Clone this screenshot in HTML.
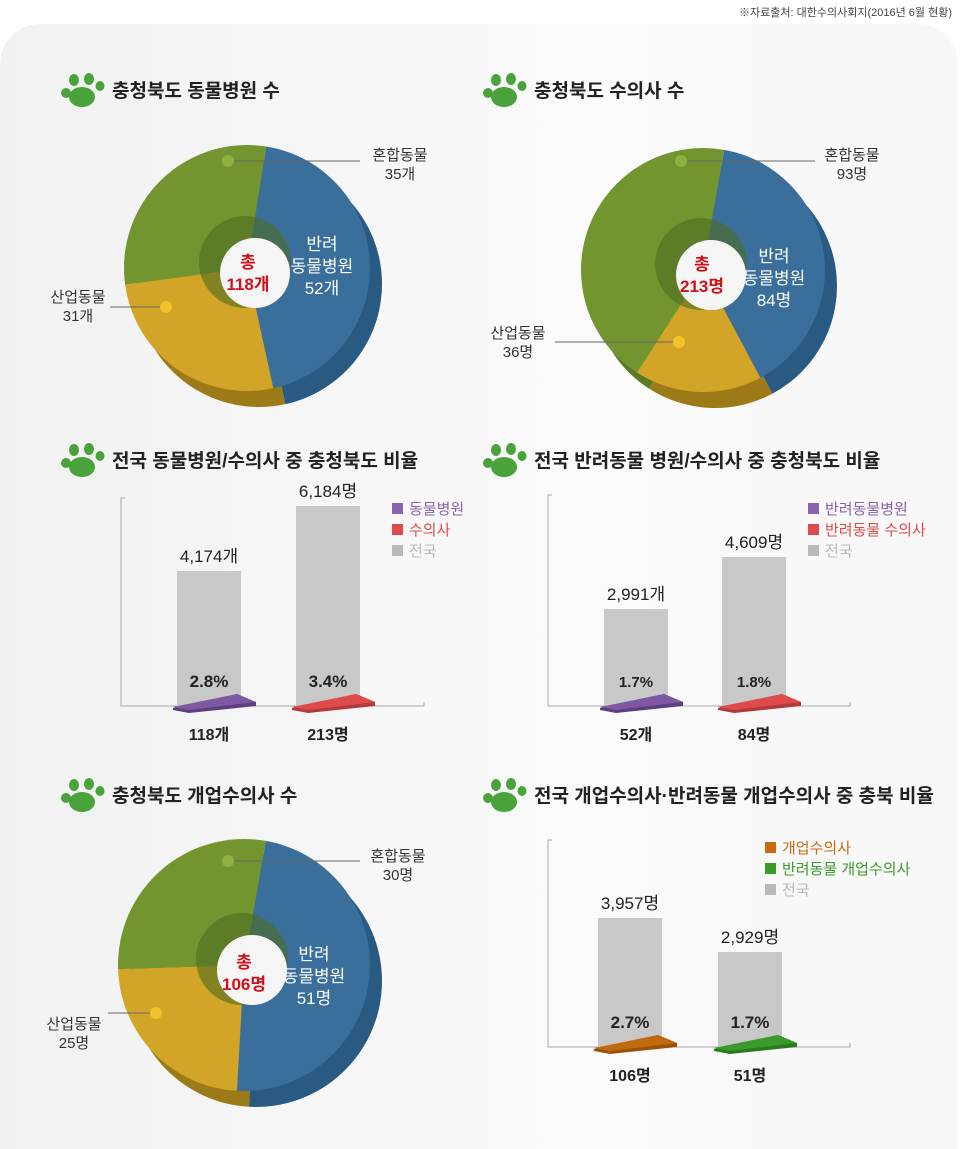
<!DOCTYPE html>
<html><head><meta charset="utf-8"><style>
body{margin:0;width:960px;height:1149px;background:#fff;font-family:"Liberation Sans","Noto Sans CJK KR",sans-serif;position:relative;overflow:hidden}
.panel{position:absolute;left:0;top:24px;width:958px;height:1125px;border-radius:40px 40px 0 0;background:linear-gradient(90deg,#f1f1f1,#fafafa 60%,#f7f7f7)}
.t{position:absolute;white-space:nowrap}
svg{position:absolute;left:0;top:0}
</style></head><body>
<div class="panel"></div>
<div class="t" style="right:8px;top:4px;font-size:11px;color:#444">※자료출처: 대한수의사회지(2016년 6월 현황)</div>
<svg width="960" height="1149" id="s" font-family="Liberation Sans, Noto Sans CJK KR, sans-serif"></svg>
<script>
var s=document.getElementById('s'),h='';
function P(cx,cy,r,a0,a1){a0*=Math.PI/180;a1*=Math.PI/180;var l=(a1-a0)>Math.PI?1:0;
return 'M'+cx+' '+cy+'L'+(cx+r*Math.sin(a0))+' '+(cy-r*Math.cos(a0))+'A'+r+' '+r+' 0 '+l+' 1 '+(cx+r*Math.sin(a1))+' '+(cy-r*Math.cos(a1))+'Z';}
function paw(x,y){return '<g fill="#4aa33a"><ellipse cx="'+(x+20)+'" cy="'+(y+24)+'" rx="13" ry="10"/><ellipse cx="'+(x+4)+'" cy="'+(y+20)+'" rx="5" ry="5"/><ellipse cx="'+(x+12)+'" cy="'+(y+7)+'" rx="5" ry="6"/><ellipse cx="'+(x+27)+'" cy="'+(y+6)+'" rx="5" ry="6"/><ellipse cx="'+(x+38)+'" cy="'+(y+13)+'" rx="4.5" ry="5"/></g>';}
function title(x,y,t){h+=paw(x,y-24)+'<text x="'+(x+50)+'" y="'+y+'" font-size="19" font-weight="bold" fill="#222">'+t+'</text>';}
function donut(cx,cy,r,a,tot,lab){
 var cols=['#3a6f9c','#d2a427','#739530'],dk=['#295a82','#9c7a17','#5a7a25'];
 var e=[a+lab[0]/tot*360, a+(lab[0]+lab[1])/tot*360, a+360];
 var st=[a,e[0],e[1]];
 for(var i=0;i<3;i++)h+='<path d="'+P(cx+12,cy+16,r,st[i],e[i])+'" fill="'+dk[i]+'"/>';
 for(var i=0;i<3;i++)h+='<path d="'+P(cx,cy,r,st[i],e[i])+'" fill="'+cols[i]+'"/>';
 h+='<circle cx="'+(cx-2)+'" cy="'+(cy-6)+'" r="46" fill="#4f6d22" opacity="0.6"/>';
 h+='<circle cx="'+(cx+8)+'" cy="'+(cy+5)+'" r="35" fill="#f5f5f5"/>';
}
title(62,97,'충청북도 동물병원 수');title(484,97,'충청북도 수의사 수');
title(62,467,'전국 동물병원/수의사 중 충청북도 비율');title(484,467,'전국 반려동물 병원/수의사 중 충청북도 비율');
title(62,802,'충청북도 개업수의사 수');title(484,802,'전국 개업수의사·반려동물 개업수의사 중 충북 비율');
donut(247,268,123,9,118,[52,31,35]);
donut(703,270,122,10,213,[84,36,93]);
donut(244,965,126,10,106,[51,25,30]);
function lt(x,y,t,c,sz,w,anc){h+='<text x="'+x+'" y="'+y+'" font-size="'+(sz||15)+'" fill="'+(c||'#333')+'" font-weight="'+(w||'normal')+'" text-anchor="'+(anc||'middle')+'">'+t+'</text>';}
function dot(x,y,c,x2){h+='<line x1="'+x+'" y1="'+y+'" x2="'+x2+'" y2="'+y+'" stroke="#666" stroke-width="1"/><circle cx="'+x+'" cy="'+y+'" r="6" fill="'+c+'"/>';}
dot(228,161,'#8db23f',360);dot(166,307,'#f2c12e',110);
lt(400,160,'혼합동물');lt(400,179,'35개');lt(78,302,'산업동물');lt(78,321,'31개');
lt(248,268,'총','#d0101a',17,'bold');lt(248,290,'118개','#d0101a',17,'bold');
lt(322,250,'반려','#fff',17);lt(322,272,'동물병원','#fff',17);lt(322,294,'52개','#fff',17);
dot(681,161,'#8db23f',815);dot(679,342,'#f2c12e',555);
lt(852,160,'혼합동물');lt(852,179,'93명');lt(518,338,'산업동물');lt(518,357,'36명');
lt(702,270,'총','#d0101a',17,'bold');lt(702,292,'213명','#d0101a',17,'bold');
lt(774,262,'반려','#fff',17);lt(774,284,'동물병원','#fff',17);lt(774,306,'84명','#fff',17);
dot(228,861,'#8db23f',360);dot(156,1013,'#f2c12e',108);
lt(398,861,'혼합동물');lt(398,880,'30명');lt(74,1029,'산업동물');lt(74,1048,'25명');
lt(244,968,'총','#d0101a',17,'bold');lt(244,990,'106명','#d0101a',17,'bold');
lt(314,960,'반려','#fff',17);lt(314,982,'동물병원','#fff',17);lt(314,1004,'51명','#fff',17);
function axis(x,y0,y1,x1){h+='<path d="M'+(x+4)+' '+y0+'H'+x+'V'+y1+'H'+x1+'V'+(y1-4)+'" fill="none" stroke="#aaa" stroke-width="1"/>';}
function bar(x,top,base,top_t,pct,bot,c,cd,bold){
 h+='<rect x="'+x+'" y="'+top+'" width="64" height="'+(base-top)+'" fill="#c8c8c9"/>';
 h+='<path d="M'+(x-4)+' '+(base+2)+'L'+(x+60)+' '+(base-12)+'L'+(x+79)+' '+(base-4)+'L'+(x+79)+' '+(base)+'L'+(x+12)+' '+(base+7)+'L'+(x-4)+' '+(base+4)+'Z" fill="'+cd+'"/>';
 h+='<path d="M'+(x-4)+' '+(base+1)+'L'+(x+60)+' '+(base-12)+'L'+(x+79)+' '+(base-4)+'L'+(x+12)+' '+(base+4)+'Z" fill="'+c+'"/>';
 lt(x+32,top-9,top_t,'#222',17);lt(x+32,base-19,pct,'#222',bold?17:15,'bold');lt(x+32,base+34,bot,'#222',16,'bold');
}
function leg(x,y,items){items.forEach(function(it,i){h+='<rect x="'+x+'" y="'+(y+i*21-11)+'" width="11" height="11" fill="'+it[1]+'"/>';lt(x+17,y+i*21,it[0],it[1],15,'normal','start');});}
axis(121,498,706,424);
bar(177,571,706,'4,174개','2.8%','118개','#7e58a0','#5e3d80',1);
bar(296,506,706,'6,184명','3.4%','213명','#de4b4b','#b33a3a',1);
leg(392,514,[['동물병원','#8a62ad'],['수의사','#e04a4a'],['전국','#b9b9b9']]);
axis(548,495,706,850);
bar(604,609,706,'2,991개','1.7%','52개','#7e58a0','#5e3d80',0);
bar(722,557,706,'4,609명','1.8%','84명','#de4b4b','#b33a3a',0);
leg(808,514,[['반려동물병원','#8a62ad'],['반려동물 수의사','#e04a4a'],['전국','#b9b9b9']]);
axis(548,840,1047,850);
bar(598,918,1047,'3,957명','2.7%','106명','#c06a10','#9a5208',1);
bar(718,952,1047,'2,929명','1.7%','51명','#3a9a2a','#2a7a1e',1);
leg(765,853,[['개업수의사','#c86a10'],['반려동물 개업수의사','#3a9a2a'],['전국','#b9b9b9']]);
s.innerHTML=h;
</script>
</body></html>
